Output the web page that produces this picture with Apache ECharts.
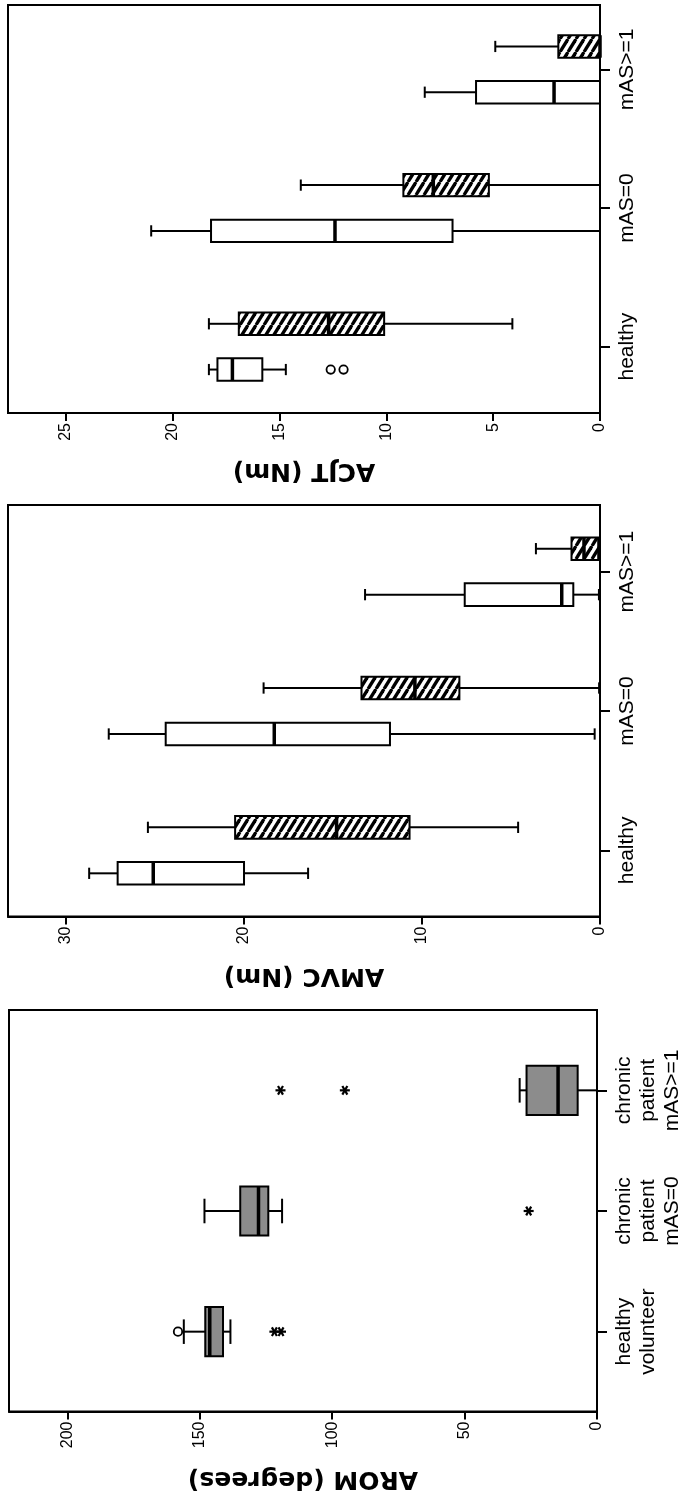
<!DOCTYPE html>
<html><head><meta charset="utf-8">
<script src="https://cdn.jsdelivr.net/npm/echarts@6/dist/echarts.min.js"></script>
<style>html,body{margin:0;padding:0;background:#fff;}#c{width:678px;height:1497px;}</style>
</head><body><div id="c"></div>
<script>
// ---------- data ----------
const acjtCategories = ['healthy', 'mAS=0', 'mAS>=1'];
// [min, Q1, median, Q3, max]
const acjtOpen = [[14.7, 15.8, 17.2, 17.9, 18.3], [0, 6.9, 12.4, 18.2, 21.0], [0, 0, 2.15, 5.8, 8.2]];
const acjtHatched = [[4.1, 10.1, 12.7, 16.9, 18.3], [0, 5.2, 7.8, 9.2, 14.0], [0, 0, 0, 1.95, 4.9]];
const acjtOutliers = [[0, 12.6, 0], [0, 12.0, 0]]; // [category, value, kind 0=circle 1=asterisk]
const acjtTicks = [0, 5, 10, 15, 20, 25];

const amvcCategories = ['healthy', 'mAS=0', 'mAS>=1'];
const amvcOpen = [[16.4, 20.0, 25.1, 27.1, 28.7], [0.3, 11.8, 18.3, 24.4, 27.6], [0.06, 1.5, 2.15, 7.6, 13.2]];
const amvcHatched = [[4.6, 10.7, 14.8, 20.5, 25.4], [0.05, 7.9, 10.4, 13.4, 18.9], [0.1, 0.1, 0.9, 1.6, 3.6]];
const amvcOutliers = [];
const amvcTicks = [0, 10, 20, 30];

const aromCategories = ['healthy\nvolunteer', 'chronic\npatient\nmAS=0', 'chronic\npatient\nmAS>=1'];
const aromBoxes = [[138.4, 141.2, 146.2, 147.9, 156.0], [118.9, 124.1, 127.8, 134.7, 148.2], [0, 7.3, 14.7, 26.6, 29.2]];
const aromOutliers = [[0, 158.2, 0], [0, 121.8, 1], [0, 119.3, 1], [1, 25.8, 1], [2, 119.5, 1], [2, 95.2, 1]];
const aromTicks = [0, 50, 100, 150, 200];

// ---------- styles ----------
const FONT = 'Liberation Sans, Arial, Helvetica, sans-serif';
const TITLE_FONT = 'DejaVu Sans, Liberation Sans, Arial, sans-serif';
const GRAY = '#8c8c8c';

function makeHatch() {
  const w = 8, h = 13;
  const cv = document.createElement('canvas');
  cv.width = w; cv.height = h;
  const g = cv.getContext('2d');
  g.fillStyle = '#fff'; g.fillRect(0, 0, w, h);
  g.strokeStyle = '#000'; g.lineWidth = 3.3;
  for (const x0 of [-w, 0, w]) {
    g.beginPath(); g.moveTo(x0, h); g.lineTo(x0 + w, 0); g.stroke();
  }
  return { image: cv, repeat: 'repeat' };
}
const HATCH = makeHatch();

function ln(x1, y1, x2, y2, w) {
  return { type: 'line', shape: { x1, y1, x2, y2 }, style: { stroke: '#000', lineWidth: w } };
}

function boxRender(fill, offFrac, hFrac) {
  return function (params, api) {
    const cat = api.value(0);
    const c = api.coord([0, cat]);
    const band = api.size([0, 1])[1];
    const y = c[1] + offFrac * band;
    const h = hFrac * band;
    const X = i => api.coord([api.value(i), cat])[0];
    const xmin = X(1), q1 = X(2), med = X(3), q3 = X(4), xmax = X(5);
    const left = Math.min(q1, q3), right = Math.max(q1, q3);
    return {
      type: 'group', children: [
        ln(xmin, y, q1, y, 2), ln(q3, y, xmax, y, 2),
        ln(xmin, y - h / 4, xmin, y + h / 4, 2), ln(xmax, y - h / 4, xmax, y + h / 4, 2),
        { type: 'rect', shape: { x: left, y: y - h / 2, width: right - left, height: h },
          style: { fill: fill, stroke: '#000', lineWidth: 2 } },
        ln(med, y - h / 2, med, y + h / 2, 3.5)
      ]
    };
  };
}

function outlierRender(offFrac) {
  return function (params, api) {
    const cat = api.value(0);
    const c = api.coord([api.value(1), cat]);
    const band = api.size([0, 1])[1];
    const x = c[0], y = c[1] + offFrac * band;
    if (api.value(2) === 0) {
      return { type: 'circle', shape: { cx: x, cy: y, r: 4.2 }, style: { fill: '#fff', stroke: '#000', lineWidth: 1.8 } };
    }
    const r = 5;
    return {
      type: 'group', children: [0, 60, 120].map(a => {
        const t = a * Math.PI / 180;
        return ln(x - r * Math.cos(t), y - r * Math.sin(t), x + r * Math.cos(t), y + r * Math.sin(t), 2.2);
      })
    };
  };
}

// ---------- panels ----------
const panels = [
  { cats: acjtCategories, ticks: acjtTicks, max: 27.7, name: 'ACJT (Nm)', nameGap: 45,
    outer: { left: 8, top: 5, width: 592, height: 408 }, inner: { top: 0, height: 416 },
    boxes: [{ data: acjtOpen, fill: '#fff', off: 0.165, h: 0.162 }, { data: acjtHatched, fill: HATCH, off: -0.165, h: 0.162 }],
    outliers: acjtOutliers, outOff: 0.165 },
  { cats: amvcCategories, ticks: amvcTicks, max: 33.26, name: 'AMVC (Nm)', nameGap: 46,
    outer: { left: 8, top: 505, width: 592, height: 411.5 }, inner: { top: 502, height: 418 },
    boxes: [{ data: amvcOpen, fill: '#fff', off: 0.165, h: 0.162 }, { data: amvcHatched, fill: HATCH, off: -0.165, h: 0.162 }],
    outliers: amvcOutliers, outOff: 0.165 },
  { cats: aromCategories, ticks: aromTicks, max: 222, name: 'AROM (degrees)', nameGap: 54,
    outer: { left: 9, top: 1010, width: 588, height: 401.5 }, inner: { top: 1030, height: 362 },
    boxes: [{ data: aromBoxes, fill: GRAY, off: 0, h: 0.407 }],
    outliers: aromOutliers, outOff: 0 }
];

const grid = [], xAxis = [], yAxis = [], series = [];
panels.forEach((p, i) => {
  const go = 2 * i, gi = 2 * i + 1;
  grid.push({ left: p.outer.left, top: p.outer.top, width: p.outer.width, height: p.outer.height,
    show: true, borderColor: '#000', borderWidth: 2, backgroundColor: 'transparent',
    containLabel: false, outerBoundsMode: 'none' });
  grid.push({ left: p.outer.left, top: p.inner.top, width: p.outer.width, height: p.inner.height,
    containLabel: false, outerBoundsMode: 'none' });
  xAxis.push({
    gridIndex: go, type: 'value', inverse: true, min: 0, max: p.max,
    axisLine: { show: true, lineStyle: { color: '#000', width: 2 } },
    splitLine: { show: false },
    axisTick: { show: true, length: 8, lineStyle: { color: '#000', width: 2 }, customValues: p.ticks },
    axisLabel: { customValues: p.ticks, rotate: 90, margin: 10, fontSize: 16, color: '#000', fontFamily: FONT },
    name: p.name, nameLocation: 'middle', nameRotate: 180, nameGap: p.nameGap,
    nameTextStyle: { fontSize: 25, fontWeight: 'bold', color: '#000', fontFamily: TITLE_FONT }
  });
  yAxis.push({ gridIndex: go, type: 'value', show: false });
  xAxis.push({ gridIndex: gi, type: 'value', inverse: true, min: 0, max: p.max, show: false });
  yAxis.push({
    gridIndex: gi, type: 'category', data: p.cats, position: 'right',
    axisLine: { show: false },
    axisTick: { show: true, alignWithLabel: true, length: 10, lineStyle: { color: '#000', width: 2 } },
    axisLabel: { rotate: 90, interval: 0, margin: 15, fontSize: 21, lineHeight: 24, color: '#000', fontFamily: FONT },
    splitLine: { show: false }
  });
  p.boxes.forEach(b => {
    series.push({
      type: 'custom', xAxisIndex: gi, yAxisIndex: gi,
      renderItem: boxRender(b.fill, b.off, b.h),
      encode: { y: 0, x: [1, 2, 3, 4, 5] },
      data: b.data.map((v, k) => [k].concat(v)),
      silent: true, animation: false
    });
  });
  if (p.outliers.length) {
    series.push({
      type: 'custom', xAxisIndex: gi, yAxisIndex: gi,
      renderItem: outlierRender(p.outOff),
      encode: { y: 0, x: 1 },
      data: p.outliers,
      silent: true, animation: false
    });
  }
});

const chart = echarts.init(document.getElementById('c'), null, { renderer: 'canvas' });
chart.setOption({ backgroundColor: '#fff', animation: false, grid, xAxis, yAxis, series });
</script></body></html>
